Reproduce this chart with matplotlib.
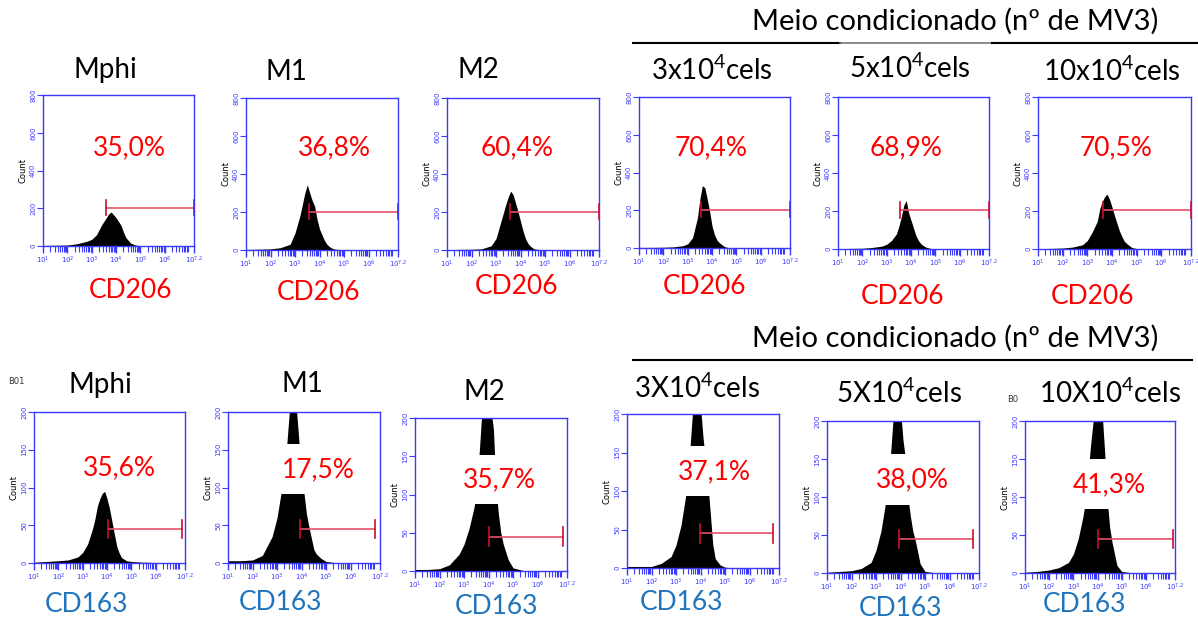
import matplotlib
matplotlib.use("Agg")
import matplotlib.pyplot as plt
from matplotlib.lines import Line2D
import numpy as np

plt.rcParams['font.family'] = ['Lato', 'DejaVu Sans']
plt.rcParams['mathtext.default'] = 'regular'

W, H = 1198, 622

# ---- data ----
log_grid = [1.0, 1.5, 2.0, 2.4, 2.8, 3.0, 3.2, 3.4, 3.5, 3.6, 3.7, 3.8, 3.9,
            4.0, 4.1, 4.2, 4.3, 4.4, 4.5, 4.6, 4.8, 5.0, 5.5, 7.2]

top_titles = ["Mphi", "M1", "M2", "3x10$^{4}$cels", "5x10$^{4}$cels", "10x10$^{4}$cels"]
bottom_titles = ["Mphi", "M1", "M2", "3X10$^{4}$cels", "5X10$^{4}$cels", "10X10$^{4}$cels"]
header = "Meio condicionado (nº de MV3)"

top_pct = ["35,0%", "36,8%", "60,4%", "70,4%", "68,9%", "70,5%"]
bottom_pct = ["35,6%", "17,5%", "35,7%", "37,1%", "38,0%", "41,3%"]
top_marker = "CD206"
bottom_marker = "CD163"

cd206_mphi = [3, 4, 5, 12, 25, 35, 60, 110, 130, 150, 170, 180, 165, 150, 130, 110, 75, 45, 30, 15, 5, 2, 0, 0]
cd206_m1 = [3, 4, 6, 12, 30, 90, 180, 300, 343, 300, 260, 230, 160, 110, 80, 50, 30, 18, 10, 5, 2, 1, 0, 0]
cd206_m2 = [2, 3, 4, 6, 22, 60, 150, 240, 280, 310, 290, 245, 200, 150, 100, 60, 35, 20, 10, 5, 2, 1, 0, 0]
cd206_3x = [3, 3, 4, 6, 12, 22, 55, 160, 260, 330, 320, 260, 195, 115, 70, 42, 28, 18, 8, 4, 1, 0, 0, 0]
cd206_5x = [2, 3, 4, 8, 15, 25, 45, 80, 120, 170, 230, 255, 190, 150, 110, 70, 45, 28, 18, 10, 3, 1, 0, 0]
cd206_10x = [2, 3, 5, 10, 22, 45, 90, 145, 210, 250, 275, 289, 260, 220, 175, 135, 95, 65, 40, 28, 8, 2, 0, 0]

cd163_mphi = [1, 2, 3, 4, 8, 14, 25, 45, 58, 75, 85, 92, 95, 85, 72, 55, 38, 22, 13, 7, 3, 2, 1, 0]
cd163_m1 = [3, 3, 4, 10, 35, 60, 100, 158, 200, 240, 235, 200, 158, 120, 92, 65, 48, 33, 18, 12, 6, 2, 0, 0]
cd163_m2 = [2, 2, 3, 8, 22, 35, 55, 82, 100, 145, 195, 230, 240, 230, 210, 185, 110, 75, 50, 35, 15, 4, 0, 0]
cd163_3x = [2, 2, 2, 6, 15, 30, 55, 95, 125, 170, 215, 240, 235, 210, 170, 140, 110, 70, 30, 12, 4, 1, 0, 0]
cd163_5x = [1, 2, 3, 6, 14, 30, 55, 95, 115, 160, 205, 235, 240, 215, 175, 150, 100, 75, 55, 43, 12, 2, 0, 0]
cd163_10x = [1, 2, 4, 7, 14, 25, 45, 75, 95, 125, 165, 195, 220, 240, 235, 205, 155, 95, 60, 40, 10, 2, 0, 0]

top_counts = [cd206_mphi, cd206_m1, cd206_m2, cd206_3x, cd206_5x, cd206_10x]
bottom_counts = [cd163_mphi, cd163_m1, cd163_m2, cd163_3x, cd163_5x, cd163_10x]

# gates: (start, end, level) in log-decade / count units
top_gates = [(3.59, 7.2, 202), (3.56, 7.2, 202), (3.57, 7.2, 202), (3.55, 7.2, 202), (3.56, 7.2, 205), (3.62, 7.2, 205)]
bottom_gates = [(4.02, 7.09, 45), (3.93, 7.0, 45), (4.01, 7.04, 45), (3.97, 6.97, 45), (3.94, 6.97, 45), (4.03, 7.1, 45)]
# white cover bands (pasted-over area) in bottom panels
bottom_masks = [None, (92, 157), (87, 152), (93, 159), (90, 157), (84, 150)]

# ---- layout (pixels) ----
top_boxes = [(43, 95, 194, 246), (246, 98, 398, 250), (447, 98, 599, 250),
             (639, 97, 790, 248), (838, 97, 989, 249), (1038, 97, 1191, 249)]
bottom_boxes = [(34, 412, 185, 563), (228, 412, 380, 563), (415, 418, 567, 571),
                (627, 414, 779, 568), (827, 421, 979, 573), (1025, 421, 1175, 573)]
top_title_pos = [(105, 70), (286, 72), (478, 70), (712, 70), (910, 68), (1112, 71)]
bottom_title_pos = [(100, 385), (302, 384), (484, 392), (697, 388), (899, 393), (1110, 393)]
top_pct_pos = [(129, 148), (334, 148), (517, 148), (711, 148), (906, 148), (1116, 148)]
bottom_pct_pos = [(119, 468), (318, 470), (499, 480), (714, 472), (912, 480), (1109, 485)]
top_marker_pos = [(131, 291), (319, 292), (517, 286), (704, 286), (903, 297), (1092, 297)]
bottom_marker_pos = [(86, 605), (280, 603), (497, 607), (682, 603), (900, 609), (1085, 605)]

BLUE_AX = '#3a3aff'
RED = '#ff0000'
CD163_BLUE = '#1f74bd'

fig = plt.figure(figsize=(W / 100, H / 100), dpi=100)


def add_ax(box):
    l, t, r, b = box
    return fig.add_axes([l / W, 1 - b / H, (r - l) / W, (b - t) / H])


def ftext(pos, s, **kw):
    fig.text(pos[0] / W, 1 - pos[1] / H, s, ha='center', va='center', **kw)


def hline(x0, x1, y, **kw):
    fig.add_artist(Line2D([x0 / W, x1 / W], [1 - y / H, 1 - y / H], **kw))


minor = [d + np.log10(k) for d in range(1, 8) for k in range(2, 10) if d + np.log10(k) < 7.2]


def style_ax(ax, ymax, yticks):
    ax.set_xlim(1, 7.2)
    ax.set_ylim(0, ymax)
    for s in ax.spines.values():
        s.set_color(BLUE_AX)
        s.set_linewidth(1.0)
        s.set_zorder(3)
    ax.set_xticks([1, 2, 3, 4, 5, 6, 7.2])
    ax.set_xticklabels(['$10^{1}$', '$10^{2}$', '$10^{3}$', '$10^{4}$', '$10^{5}$', '$10^{6}$', '$10^{7.2}$'],
                       fontsize=5, color=BLUE_AX, family='DejaVu Sans')
    ax.set_xticks(minor, minor=True)
    ax.set_yticks(yticks)
    ax.set_yticklabels([str(v) for v in yticks], fontsize=5, color=BLUE_AX, rotation=90,
                       va='center', family='DejaVu Sans')
    ax.tick_params(axis='x', which='major', length=5, width=1, color=BLUE_AX, pad=1)
    ax.tick_params(axis='x', which='minor', length=4, width=0.8, color=BLUE_AX)
    ax.tick_params(axis='y', length=4, width=0.8, color=BLUE_AX, pad=1)
    ax.set_ylabel('Count', fontsize=6, family='DejaVu Sans', labelpad=2)


def draw_gate(ax, gate, cap):
    x0, x1, y = gate
    ax.plot([x0, x1], [y, y], color='#e8506a', lw=1.2, zorder=4)
    ax.plot([x0, x0], [y - cap, y + cap], color='#c8102e', lw=1.2, zorder=4)
    ax.plot([x1, x1], [y - cap, y + cap], color='#c8102e', lw=1.2, zorder=4)


for i in range(6):
    ax = add_ax(top_boxes[i])
    ax.fill_between(log_grid, top_counts[i], 0, color='black', lw=0, zorder=1)
    style_ax(ax, 800, [0, 200, 400, 600, 800])
    draw_gate(ax, top_gates[i], 40)
    ftext(top_title_pos[i], top_titles[i], fontsize=20, color='black')
    ftext(top_pct_pos[i], top_pct[i], fontsize=19, color=RED)
    ftext(top_marker_pos[i], top_marker, fontsize=19, color=RED)

for i in range(6):
    ax = add_ax(bottom_boxes[i])
    ax.fill_between(log_grid, bottom_counts[i], 0, color='black', lw=0, zorder=1)
    if bottom_masks[i] is not None:
        ax.axhspan(bottom_masks[i][0], bottom_masks[i][1], color='white', lw=0, zorder=2)
    style_ax(ax, 200, [0, 50, 100, 150, 200])
    draw_gate(ax, bottom_gates[i], 12)
    ftext(bottom_title_pos[i], bottom_titles[i], fontsize=20, color='black')
    ftext(bottom_pct_pos[i], bottom_pct[i], fontsize=19, color=RED)
    ftext(bottom_marker_pos[i], bottom_marker, fontsize=19, color=CD163_BLUE)

# headers
ftext((955, 21), header, fontsize=21, color='black')
hline(633, 840, 43, color='black', lw=1.5)
hline(840, 992, 43, color='#777777', lw=1.2)
hline(992, 1198, 43, color='black', lw=1.5)
ftext((955, 338), header, fontsize=21, color='black')
hline(633, 1192, 360, color='black', lw=1.5)

# small artifacts from source screenshots
ftext((16, 381), "B01", fontsize=6, color='#333333', family='DejaVu Sans')
ftext((1013, 399), "B0", fontsize=6, color='#333333', family='DejaVu Sans')

fig.savefig("out.png", dpi=100)
